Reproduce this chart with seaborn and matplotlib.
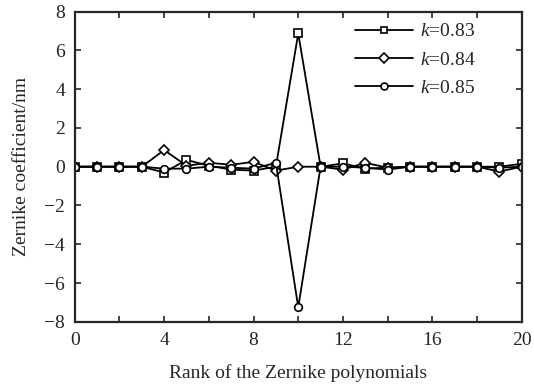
import matplotlib
matplotlib.use("Agg")
import matplotlib.pyplot as plt
import seaborn as sns
import pandas as pd
import numpy as np

rank = list(range(21))
k083 = [0, 0, 0, 0, -0.3, 0.35, 0.05, -0.15, -0.2, 0.0, 6.87, 0.0, 0.17, -0.1, -0.05, 0, 0, 0, 0, 0.0, 0.15]
k084 = [0, 0, 0, 0, 0.86, 0.05, 0.2, 0.1, 0.25, -0.2, 0.0, 0.0, -0.15, 0.2, -0.05, 0, 0, 0, 0, -0.25, 0.0]
k085 = [0, 0, 0, 0, -0.1, -0.1, 0.0, -0.05, -0.1, 0.2, -7.25, 0.0, 0.0, -0.05, -0.15, 0, 0, 0, 0, -0.05, 0.0]
labels = ["$k$=0.83", "$k$=0.84", "$k$=0.85"]

df = pd.DataFrame({
    "rank": rank * 3,
    "coef": k083 + k084 + k085,
    "series": [labels[0]] * 21 + [labels[1]] * 21 + [labels[2]] * 21,
})

sns.set_style("ticks")
plt.rcParams["font.family"] = ["Liberation Serif", "DejaVu Serif"]
plt.rcParams["mathtext.fontset"] = "custom"
plt.rcParams["mathtext.it"] = "Liberation Serif:italic"
plt.rcParams["mathtext.rm"] = "Liberation Serif"

fig = plt.figure(figsize=(5.34, 3.85), dpi=100)
ax = fig.add_axes([0.140, 0.164, 0.837, 0.806])

sns.lineplot(data=df, x="rank", y="coef", style="series", hue="series",
             palette=["black"] * 3, markers=["s", "D", "o"], dashes=False,
             linewidth=1.3, markersize=5.5, markerfacecolor="white",
             markeredgecolor="black", markeredgewidth=1.2, ax=ax)

ax.set_xlim(0, 20)
ax.set_ylim(-8, 8)
ax.set_xticks(np.arange(0, 21, 4))
ax.set_xticks(np.arange(0, 21, 2), minor=True)
ax.set_yticks(np.arange(-8, 9, 2))
ax.set_yticklabels([str(v).replace("-", "\u2212") for v in range(-8, 9, 2)])
ax.tick_params(which="both", direction="in", top=True, right=True, labelsize=14,
               length=4, width=1.2)
ax.tick_params(axis="x", which="major", pad=7)
ax.tick_params(axis="y", which="major", pad=7)
for s in ax.spines.values():
    s.set_linewidth(1.6)
    s.set_visible(True)
ax.set_xlabel("Rank of the Zernike polynomials", fontsize=14, labelpad=11)
ax.set_ylabel("Zernike coefficient/nm", fontsize=14, labelpad=10)

h, l = ax.get_legend_handles_labels()
for hh in h:
    hh.set_markersize(5)
ax.legend(h, l, loc="upper right", frameon=False, fontsize=14, handlelength=3.0,
          handletextpad=0.35, labelspacing=0.55, bbox_to_anchor=(0.936, 1.02))

fig.savefig("out.png", dpi=100)
